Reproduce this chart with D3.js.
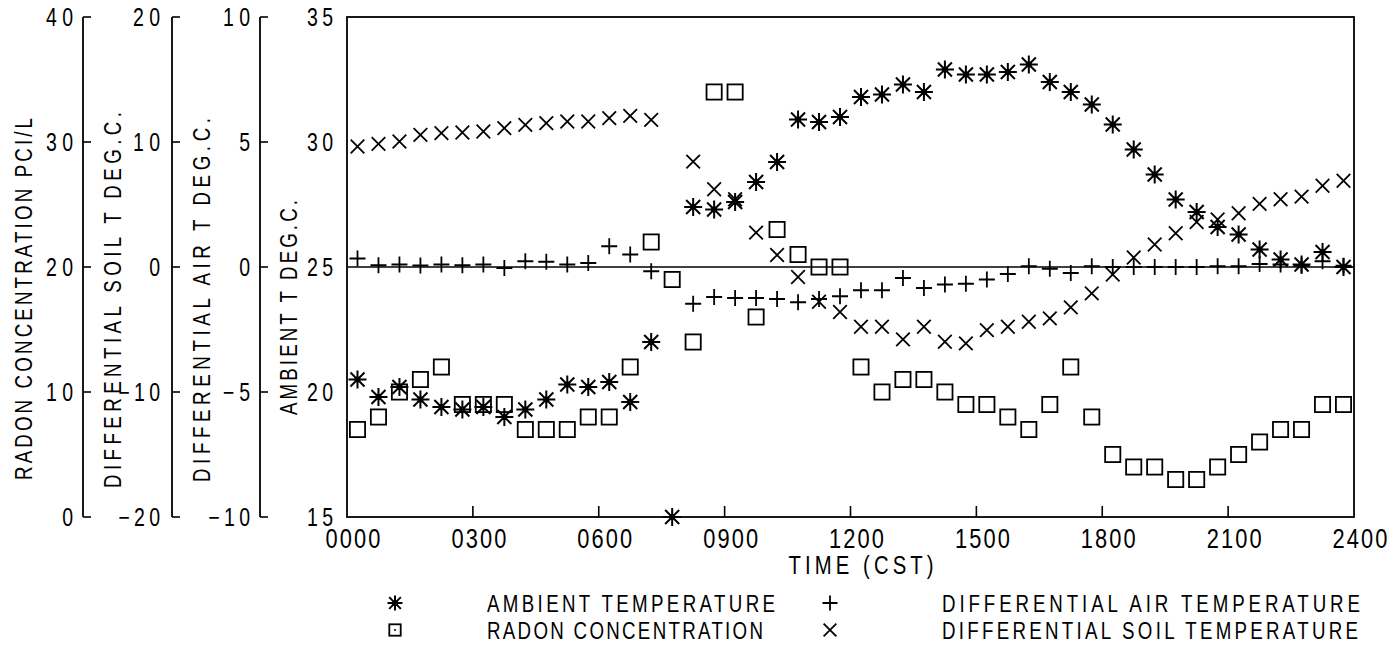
<!DOCTYPE html>
<html><head><meta charset="utf-8">
<script src="https://cdn.jsdelivr.net/npm/d3@7"></script>
<style>
body{margin:0;background:#fff}
text{font-family:"Liberation Sans","DejaVu Sans",sans-serif;fill:#000}
</style>
</head><body>
<svg id="chart" width="1397" height="652"></svg>
<script>
// time of each observation (hours, CST)
const times = [0.25,0.75,1.25,1.75,2.25,2.75,3.25,3.75,4.25,4.75,5.25,5.75,6.25,6.75,7.25,7.75,
  8.25,8.75,9.25,9.75,10.25,10.75,11.25,11.75,12.25,12.75,13.25,13.75,14.25,14.75,15.25,15.75,
  16.25,16.75,17.25,17.75,18.25,18.75,19.25,19.75,20.25,20.75,21.25,21.75,22.25,22.75,23.25,23.75];
// ambient temperature, deg C
const ambient = [20.5,19.8,20.2,19.7,19.4,19.3,19.4,19.0,19.3,19.7,20.3,20.2,20.4,19.6,22.0,15.0,
  27.4,27.3,27.6,28.4,29.2,30.9,30.8,31.0,31.8,31.9,32.3,32.0,32.9,32.7,32.7,32.8,
  33.1,32.4,32.0,31.5,30.7,29.7,28.7,27.7,27.2,26.6,26.3,25.7,25.3,25.1,25.6,25.0];
// radon concentration, pCi/L
const radon = [7,8,10,11,12,9,9,9,7,7,7,8,8,12,22,19,
  14,34,34,16,23,21,20,20,12,10,11,11,10,9,9,8,
  7,9,12,8,5,4,4,3,3,4,5,6,7,7,9,9];
// differential air temperature, deg C
const airDiff = [0.34,0.07,0.1,0.06,0.1,0.07,0.1,-0.04,0.23,0.21,0.1,0.16,0.83,0.5,-0.17,null,
  -1.47,-1.2,-1.24,-1.24,-1.28,-1.41,-1.28,-1.17,-0.93,-0.93,-0.44,-0.84,-0.7,-0.67,-0.5,-0.28,
  0.03,-0.07,-0.24,0.03,0,0,0,0,0,0.03,0.03,0.12,0.1,0.05,0.23,0.05];
// differential soil temperature, deg C
const soilDiff = [9.64,9.85,10.04,10.57,10.71,10.76,10.84,11.11,11.37,11.51,11.64,11.64,11.91,12.09,11.77,null,
  8.43,6.22,5.42,2.75,0.96,-0.8,-2.78,-3.6,-4.78,-4.78,-5.79,-4.78,-5.98,-6.11,-5.05,-4.78,
  -4.38,-4.11,-3.23,-2.11,-0.6,0.76,1.8,2.7,3.6,3.8,4.3,5.05,5.42,5.63,6.5,6.9];

const xTickValues = [0,3,6,9,12,15,18,21,24];
const xTickLabels = ["0000","0300","0600","0900","1200","1500","1800","2100","2400"];
const ambTicks = [15,20,25,30,35];
const radonTicks = [0,10,20,30,40];
const soilTicks = [-20,-10,0,10,20];
const airTicks = [-10,-5,0,5,10];

const legendItems = [
  {label:"AMBIENT TEMPERATURE", sym:"star"},
  {label:"DIFFERENTIAL AIR TEMPERATURE", sym:"plus"},
  {label:"RADON CONCENTRATION", sym:"square"},
  {label:"DIFFERENTIAL SOIL TEMPERATURE", sym:"cross"}
];

const svg = d3.select("#chart");
const L = 347, R = 1354, T = 17, B = 517;
const x = d3.scaleLinear().domain([0,24]).range([L,R]);
const yAmb = d3.scaleLinear().domain([15,35]).range([B,T]);
const yRad = d3.scaleLinear().domain([0,40]).range([B,T]);
const ySoil = d3.scaleLinear().domain([-20,20]).range([B,T]);
const yAir = d3.scaleLinear().domain([-10,10]).range([B,T]);

const SX = 0.78; // horizontal squeeze for the narrow plotter lettering
function tlen(s, adv, gap){ return s.length*adv - gap; }
// text with condensed glyphs; len = desired on-screen length
function ptext(parent, px, py, str, size, len, anchor, rot){
  const g = parent.append("g")
    .attr("transform",`translate(${px},${py})${rot?` rotate(${rot})`:""} scale(${SX},1)`);
  g.append("text").attr("x",0).attr("y",0)
    .attr("text-anchor",anchor||"start").attr("font-size",size)
    .attr("textLength",len/SX).attr("lengthAdjust","spacing").text(str);
  return g;
}

// frame
svg.append("rect").attr("x",L).attr("y",T).attr("width",R-L).attr("height",B-T)
  .attr("fill","none").attr("stroke","#000").attr("stroke-width",1.8);
// zero line of differentials (25 deg ambient)
svg.append("line").attr("x1",L).attr("x2",R).attr("y1",yAmb(25)).attr("y2",yAmb(25))
  .attr("stroke","#000").attr("stroke-width",1.6);

// x ticks (inward) and labels
const xg = svg.append("g");
xg.selectAll("line").data(xTickValues.slice(1,-1)).join("line")
  .attr("x1",d=>x(d)).attr("x2",d=>x(d)).attr("y1",B).attr("y2",B-11)
  .attr("stroke","#000").attr("stroke-width",1.6);
xTickValues.forEach((d,i)=>ptext(xg, x(d)+6, B+31, xTickLabels[i], 28, 55, "middle"));
ptext(svg, 861, 574, "TIME (CST)", 26, 145, "middle");

// main y axis labels
const yg = svg.append("g");
ambTicks.forEach(d=>ptext(yg, 333, yAmb(d)+9, String(d), 25, tlen(String(d),14,2), "end"));

// left auxiliary axes
function auxAxis(ax, scale, ticks, labelRight){
  const g = svg.append("g");
  g.append("line").attr("x1",ax).attr("x2",ax).attr("y1",T).attr("y2",B)
    .attr("stroke","#000").attr("stroke-width",1.8);
  g.selectAll("line.t").data(ticks).join("line").attr("class","t")
    .attr("x1",ax).attr("x2",ax+8).attr("y1",d=>scale(d)).attr("y2",d=>scale(d))
    .attr("stroke","#000").attr("stroke-width",1.6);
  ticks.forEach(d=>{
    const s = String(d).replace("-","−");
    ptext(g, labelRight, scale(d)+9, s, 25, tlen(s,14.5,2), "end");
  });
}
auxAxis(83, yRad, radonTicks, 73);
auxAxis(172, ySoil, soilTicks, 160);
auxAxis(260, yAir, airTicks, 250);

// rotated axis titles
const titles = [
  {t:"RADON CONCENTRATION PCI/L", cx:23, y0:480, len:362},
  {t:"DIFFERENTIAL SOIL T DEG.C.", cx:112, y0:488, len:376},
  {t:"DIFFERENTIAL AIR T DEG.C.", cx:201, y0:482, len:364},
  {t:"AMBIENT T DEG.C.", cx:288, y0:415, len:215}
];
titles.forEach(o=>ptext(svg, o.cx+8.5, o.y0, o.t, 24, o.len, "start", -90));

// marker drawers
function drawSym(g, sym, cx, cy, s, dot){
  const h = s/2;
  if(sym==="star"){
    const k=h*0.78;
    g.append("path").attr("d",`M${cx-h},${cy}H${cx+h}M${cx},${cy-h}V${cy+h}M${cx-k},${cy-k}L${cx+k},${cy+k}M${cx-k},${cy+k}L${cx+k},${cy-k}`)
      .attr("stroke","#000").attr("stroke-width",2).attr("fill","none");
    g.append("circle").attr("cx",cx).attr("cy",cy).attr("r",3).attr("fill","#000");
  } else if(sym==="plus"){
    g.append("path").attr("d",`M${cx-h},${cy}H${cx+h}M${cx},${cy-h}V${cy+h}`)
      .attr("stroke","#000").attr("stroke-width",1.8).attr("fill","none");
  } else if(sym==="cross"){
    const k=h*0.85;
    g.append("path").attr("d",`M${cx-k},${cy-k}L${cx+k},${cy+k}M${cx-k},${cy+k}L${cx+k},${cy-k}`)
      .attr("stroke","#000").attr("stroke-width",1.8).attr("fill","none");
  } else if(sym==="square"){
    g.append("rect").attr("x",cx-h*0.95).attr("y",cy-h*0.95).attr("width",h*1.9).attr("height",h*1.9)
      .attr("stroke","#000").attr("stroke-width",1.8).attr("fill","none");
    if(dot) g.append("circle").attr("cx",cx).attr("cy",cy).attr("r",1).attr("fill","#000");
  }
}
function series(vals, scale, sym, size){
  const g = svg.append("g");
  vals.forEach((v,i)=>{ if(v!==null) drawSym(g, sym, x(times[i]), scale(v), size); });
}
series(soilDiff, ySoil, "cross", 16);
series(airDiff, yAir, "plus", 16);
series(radon, yRad, "square", 16);
series(ambient, yAmb, "star", 18);

// legend
const lg = svg.append("g");
const legPos = [[395,487,603,288],[830,942,603,418],[395,487,630,276],[830,942,630,416]];
legendItems.forEach((it,i)=>{
  const [sx,tx,cy,len] = legPos[i];
  drawSym(lg, it.sym, sx, cy, it.sym==="square"?12:15, true);
  ptext(lg, tx, cy+8.5, it.label, 24, len, "start");
});
</script>
</body></html>
